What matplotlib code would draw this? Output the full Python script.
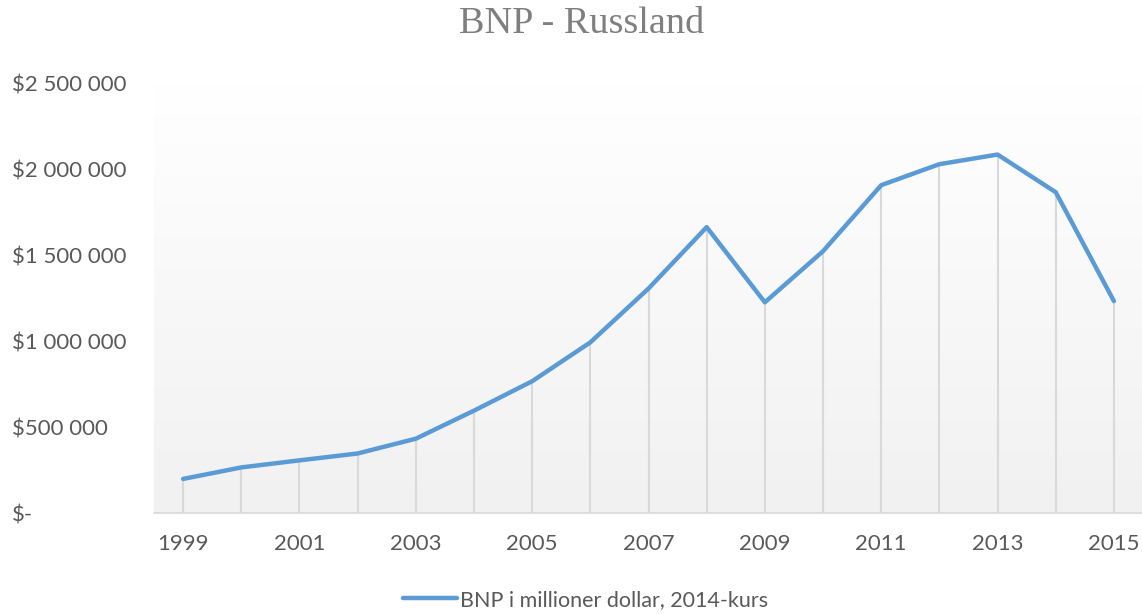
import matplotlib
matplotlib.use("Agg")
import matplotlib.pyplot as plt
import numpy as np

years = list(range(1999, 2016))
gdp = [198000, 265000, 306000, 346000, 432000, 595000, 766000, 992000,
       1305000, 1662000, 1225000, 1522000, 1906000, 2028000, 2084000,
       1865000, 1232000]
series_name = "BNP i millioner dollar, 2014-kurs"
title = "BNP - Russland"
yticks = [0, 500000, 1000000, 1500000, 2000000, 2500000]
ytick_labels = ["$-", "$500 000", "$1 000 000", "$1 500 000", "$2 000 000", "$2 500 000"]

W, H = 1142, 614
fig = plt.figure(figsize=(W / 100, H / 100), dpi=100)
left, right, bottom, top = 154, 1143, 513, 83
ax = fig.add_axes([left / W, 1 - bottom / H, (right - left) / W, (bottom - top) / H])

x = np.arange(len(years))
ax.set_xlim(-0.5, len(years) - 0.5)
ax.set_ylim(0, 2500000)

# gradient background
grad = np.linspace(1.0, 0.945, 256).reshape(-1, 1)
grad = np.repeat(grad[:, :, None], 3, axis=2)
ax.imshow(grad, extent=[0, 1, 0, 1], transform=ax.transAxes, aspect="auto", zorder=0)

# drop lines
ax.vlines(x, 0, gdp, color="#d9d9d9", linewidth=1.5, zorder=1)
ax.plot(x, gdp, color="#5B9BD5", linewidth=3.2, solid_capstyle="round",
        solid_joinstyle="round", zorder=3, label=series_name)

for s in ["left", "right", "top"]:
    ax.spines[s].set_visible(False)
ax.spines["bottom"].set_color("#d9d9d9")
ax.spines["bottom"].set_linewidth(1.2)

font = ["Lato", "DejaVu Sans"]
ax.set_xticks(x[::2])
ax.set_xticklabels([str(y) for y in years[::2]], fontsize=16, color="#595959", family=font)
ax.set_yticks(yticks)
ax.set_yticklabels(ytick_labels, fontsize=16, color="#595959", family=font)
ax.tick_params(axis="x", length=0, pad=15)
ax.tick_params(axis="y", length=0, pad=(left - 12) * 0.72)
for lab in ax.get_yticklabels():
    lab.set_horizontalalignment("left")

fig.text(582 / W, 1 - 24 / H, title, ha="center", va="center", fontsize=27.5,
         color="#7f7f7f", family=["Liberation Serif", "DejaVu Serif"])

leg = fig.legend(loc="center", bbox_to_anchor=(586 / W, 1 - 600 / H), frameon=False,
                 prop={"family": font, "size": 15.5}, handlelength=2.5, handletextpad=0.15,
                 labelcolor="#595959")

fig.savefig("out.png", dpi=100)
